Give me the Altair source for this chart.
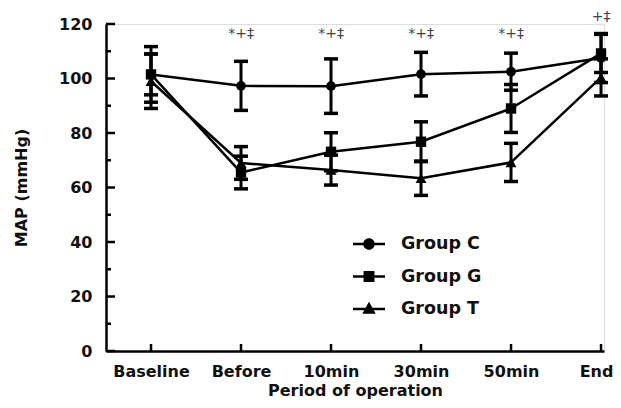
import altair as alt
import pandas as pd

periods = ["Baseline", "Before", "10min", "30min", "50min", "End"]
groups = ["Group C", "Group G", "Group T"]

c_mean = [101.5, 97.3, 97.2, 101.6, 102.5, 107.5]
c_sd = [10.2, 9.0, 10.0, 8.0, 6.8, 9.0]
g_mean = [101.5, 65.5, 73.1, 76.8, 89.0, 109.2]
g_sd = [7.5, 6.0, 7.0, 7.3, 8.8, 7.0]
t_mean = [99.0, 69.0, 66.4, 63.4, 69.2, 100.4]
t_sd = [10.0, 6.0, 5.5, 6.3, 7.0, 6.8]

ann_idx = [1, 2, 3, 4, 5]
ann_text = ["*+‡", "*+‡", "*+‡", "*+‡", "+‡"]
ann_y = [116.3, 116.3, 116.3, 116.3, 122.6]

y_major = [0, 20, 40, 60, 80, 100, 120]
y_minor = [10, 30, 50, 70, 90, 110]
x_ticks = [0, 1, 2, 3, 4, 5]

rows = []
for g, means, sds in zip(groups, [c_mean, g_mean, t_mean], [c_sd, g_sd, t_sd]):
    for i, (m, s) in enumerate(zip(means, sds)):
        rows.append({"idx": i, "group": g, "mean": m, "lo": m - s, "hi": m + s})
df = pd.DataFrame(rows)
ann_df = pd.DataFrame({"idx": ann_idx, "txt": ann_text, "y": ann_y})

W, H = 498, 327
FONT = "DejaVu Sans"
INK = "#111111"

xs = alt.Scale(domain=[-0.5, 5.033], nice=False, zero=False)
ys = alt.Scale(domain=[0, 120], nice=False, zero=True)

label_expr = "[" + ",".join("'" + p + "'" for p in periods) + "][datum.value]"

x_axis = alt.Axis(
    values=x_ticks, labelExpr=label_expr, ticks=False, grid=False,
    domainColor="black", domainWidth=2.5,
    labelFont=FONT, labelFontSize=16, labelFontWeight="bold", labelColor=INK,
    labelPadding=12,
    labelOffset={"condition": {"test": "datum.value == 5", "value": -5}, "value": 0},
    title="Period of operation", titleFont=FONT,
    titleFontSize=16, titleFontWeight="bold", titleColor=INK, titlePadding=3,
)
y_axis = alt.Axis(
    values=y_major, ticks=False, grid=False,
    domainColor="black", domainWidth=2.5,
    labelFont=FONT, labelFontSize=16, labelFontWeight="bold", labelColor=INK,
    labelPadding=14, title="MAP (mmHg)", titleFont=FONT,
    titleFontSize=16, titleFontWeight="bold", titleColor=INK, titlePadding=29,
)


def X(field="idx:Q"):
    return alt.X(field, scale=xs, axis=x_axis)


def Y(field):
    return alt.Y(field, scale=ys, axis=y_axis)


base = alt.Chart(df)

lines = base.mark_line(color="black", strokeWidth=2.5).encode(
    x=X(), y=Y("mean:Q"), detail="group:N"
)

bars = base.mark_rule(color="black", strokeWidth=3).encode(
    x=X(), y=Y("lo:Q"), y2="hi:Q"
)

caps = base.transform_fold(["lo", "hi"], as_=["which", "v"]).mark_tick(
    orient="horizontal", color="black", size=14, thickness=3.5, opacity=1
).encode(x=X(), y=Y("v:Q"))

points = base.mark_point(filled=True, color="black", opacity=1).encode(
    x=X(),
    y=Y("mean:Q"),
    shape=alt.Shape("group:N", scale=alt.Scale(domain=groups, range=["circle", "square", "triangle-up"]), legend=None),
    size=alt.Size("group:N", scale=alt.Scale(domain=groups, range=[95, 120, 120]), legend=None),
)

# legend symbols: a short line with the group's marker (all filled, same winding)
legend_paths = [
    "M-1,-0.08H1V0.08H-1Z M0.36,0A0.36,0.36,0,1,1,-0.36,0A0.36,0.36,0,1,1,0.36,0Z",
    "M-1,-0.08H1V0.08H-1Z M-0.34,-0.34H0.34V0.34H-0.34Z",
    "M-1,-0.08H1V0.08H-1Z M0,-0.45L0.42,0.3H-0.42Z",
]

legend_layer = base.mark_point(filled=True, color="black", opacity=0).encode(
    x=X(),
    y=Y("mean:Q"),
    shape=alt.Shape(
        "group:N",
        scale=alt.Scale(domain=groups, range=legend_paths),
        legend=alt.Legend(
            title=None, orient="none", legendX=247, legendY=204, padding=0,
            labelFont=FONT, labelFontSize=17.5, labelFontWeight="bold", labelColor=INK,
            labelOffset=16, symbolSize=1024, rowPadding=7.5,
            symbolFillColor="black", symbolStrokeColor="black", symbolStrokeWidth=0,
            symbolOpacity=1,
        ),
    ),
)

ann = alt.Chart(ann_df).mark_text(font=FONT, fontSize=14, color="#444444").encode(
    x=X(), y=Y("y:Q"), text="txt:N"
)

ymaj = alt.Chart(pd.DataFrame({"v": y_major})).mark_rule(color="black", strokeWidth=2.5).encode(
    y=Y("v:Q"), x=alt.value(0), x2=alt.value(9)
)
ymin = alt.Chart(pd.DataFrame({"v": y_minor})).mark_rule(color="black", strokeWidth=2.5).encode(
    y=Y("v:Q"), x=alt.value(0), x2=alt.value(5)
)
xtk = alt.Chart(pd.DataFrame({"idx": x_ticks})).mark_rule(color="black", strokeWidth=2.5).encode(
    x=X(), y=alt.value(H), y2=alt.value(H - 7)
)

chart = alt.layer(lines, ymaj, ymin, xtk, bars, caps, points, legend_layer, ann).resolve_scale(
    shape="independent", size="independent"
).properties(
    width=W, height=H,
    autosize=alt.AutoSizeParams(type="none"),
    padding={"left": 98, "top": 16, "right": 9, "bottom": 49},
).configure_view(stroke=None).configure(background="white")

chart.save("out.html", embed_options={"renderer": "svg", "actions": False})
